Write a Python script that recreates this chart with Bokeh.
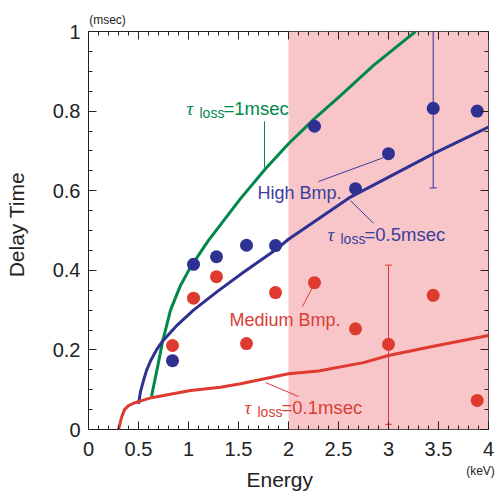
from bokeh.plotting import figure
from bokeh.models import (Range1d, FixedTicker, LinearAxis, BoxAnnotation, Label,
                          ColumnDataSource, Whisker, TeeHead)
from bokeh.embed import file_html
from bokeh.resources import INLINE

# ---------------- data ----------------
energy = [0.84, 1.05, 1.28, 1.58, 1.87, 2.26, 2.67, 3.00, 3.447, 3.887]
high_bmp = [0.173, 0.415, 0.434, 0.463, 0.462, 0.762, 0.605, 0.693, 0.807, 0.800]
medium_bmp = [0.211, 0.330, 0.384, 0.216, 0.344, 0.369, 0.253, 0.214, 0.337, 0.073]

# error bars
high_err_x = [3.447]
high_err_center = [0.807]
high_err = [0.2]
med_err_x = [3.00]
med_err_center = [0.213]
med_err = [0.2]

# model curves
tau1_x = [0.63, 0.66, 0.69, 0.74, 0.82, 0.92, 1.02, 1.20, 1.52, 1.77, 2.00, 2.26, 2.52, 2.85, 3.27]
tau1_y = [0.083, 0.120, 0.156, 0.220, 0.300, 0.362, 0.408, 0.475, 0.580, 0.655, 0.718, 0.781, 0.839, 0.915, 1.0]

tau05_x = [0.50, 0.52, 0.55, 0.58, 0.62, 0.68, 0.74, 0.89, 1.05, 1.29, 1.55, 1.89, 2.00, 2.62, 3.45, 4.0]
tau05_y = [0.065, 0.095, 0.123, 0.148, 0.172, 0.200, 0.222, 0.263, 0.300, 0.347, 0.395, 0.455, 0.478, 0.584, 0.693, 0.760]

tau01_x = [0.30, 0.33, 0.36, 0.40, 0.45, 0.50, 0.63, 1.02, 1.32, 1.52, 2.00, 2.30, 2.75, 3.00, 3.45, 4.0]
tau01_y = [0.0, 0.030, 0.050, 0.060, 0.066, 0.070, 0.080, 0.098, 0.106, 0.115, 0.140, 0.147, 0.168, 0.186, 0.209, 0.236]

shaded_energy = [2.0, 4.0]

x_ticks = [0, 0.5, 1, 1.5, 2, 2.5, 3, 3.5, 4]
x_tick_labels = ["0", "0.5", "1", "1.5", "2", "2.5", "3", "3.5", "4"]
y_ticks = [0, 0.2, 0.4, 0.6, 0.8, 1.0]
y_tick_labels = ["0", "0.2", "0.4", "0.6", "0.8", "1"]
x_unit = "(keV)"
y_unit = "(msec)"

# ---------------- style ----------------
GREEN = "#00884a"
BLUE = "#2e3192"
RED = "#df3a2f"
BLUE_T = "#3a3f9c"
RED_T = "#d93d36"
PINK = "#f8c6c9"
INK = "#222222"
FONT = "Liberation Sans"
SERIF = "Liberation Serif"
NB = "\u00a0"

p = figure(width=499, height=493, output_backend="svg", toolbar_location=None,
           x_range=Range1d(0, 4), y_range=Range1d(0, 1),
           min_border_left=88, min_border_right=11, min_border_top=31, min_border_bottom=64,
           x_axis_location=None, y_axis_location=None)
p.background_fill_color = "white"
p.border_fill_color = "white"
p.outline_line_color = INK
p.outline_line_width = 1
p.xgrid.visible = False
p.ygrid.visible = False

x_minor = [i / 10 for i in range(0, 41)]
y_minor = [i / 20 for i in range(0, 21)]

def style_axis(ax, show_labels):
    ax.axis_line_color = None
    ax.major_tick_in = 8
    ax.major_tick_out = 0
    ax.minor_tick_in = 4
    ax.minor_tick_out = 0
    ax.major_tick_line_color = INK
    ax.minor_tick_line_color = INK
    ax.major_label_text_font = FONT
    ax.major_label_text_font_size = "20px"
    ax.major_label_text_color = INK
    ax.axis_label_text_font = FONT
    ax.axis_label_text_font_size = "21px"
    ax.axis_label_text_font_style = "normal"
    ax.axis_label_text_color = INK
    if not show_labels:
        ax.major_label_overrides = {t: "" for t in ax.ticker.ticks}
        ax.major_label_text_font_size = "1px"
        ax.major_label_standoff = 0

def unit_axis(pos, text, standoff):
    # an axis without tick marks that only carries the unit text as its single label
    ax = LinearAxis(ticker=FixedTicker(ticks=[pos]))
    ax.axis_line_color = None
    ax.major_tick_line_color = None
    ax.minor_tick_line_color = None
    ax.major_tick_in = 0
    ax.major_tick_out = 0
    ax.minor_tick_in = 0
    ax.minor_tick_out = 0
    ax.major_label_overrides = {pos: text}
    ax.major_label_text_font = FONT
    ax.major_label_text_font_size = "12px"
    ax.major_label_text_color = INK
    ax.major_label_standoff = standoff
    return ax

xb = LinearAxis(ticker=FixedTicker(ticks=x_ticks, minor_ticks=x_minor), axis_label="Energy" + NB * 3)
xb.major_label_overrides = {t: s for t, s in zip(x_ticks, x_tick_labels)}
style_axis(xb, True)
xb.major_label_standoff = 12
xb.axis_label_standoff = 9
p.add_layout(xb, "below")
p.add_layout(unit_axis(3.92, x_unit, -30), "below")

yl = LinearAxis(ticker=FixedTicker(ticks=y_ticks, minor_ticks=y_minor), axis_label=NB * 2 + "Delay Time")
yl.major_label_overrides = {t: s for t, s in zip(y_ticks, y_tick_labels)}
style_axis(yl, True)
yl.major_label_standoff = 8
yl.axis_label_standoff = 22
p.add_layout(yl, "left")

xt = LinearAxis(ticker=FixedTicker(ticks=x_ticks, minor_ticks=x_minor))
style_axis(xt, False)
p.add_layout(xt, "above")
p.add_layout(unit_axis(0.19, y_unit, 5), "above")

yr = LinearAxis(ticker=FixedTicker(ticks=y_ticks, minor_ticks=y_minor))
style_axis(yr, False)
p.add_layout(yr, "right")

# shaded region
p.add_layout(BoxAnnotation(left=shaded_energy[0], right=shaded_energy[1], fill_color=PINK,
                           fill_alpha=1.0, line_color=None, level="underlay"))

# curves
p.line(tau1_x, tau1_y, line_color=GREEN, line_width=3, line_join="round")
p.line(tau05_x, tau05_y, line_color=BLUE, line_width=3, line_join="round")
p.line(tau01_x, tau01_y, line_color=RED, line_width=3, line_join="round")

# error bars
hs = ColumnDataSource(dict(x=high_err_x,
                           lo=[c - e for c, e in zip(high_err_center, high_err)],
                           hi=[min(c + e, 1.0) for c, e in zip(high_err_center, high_err)]))
p.add_layout(Whisker(source=hs, base="x", lower="lo", upper="hi", line_color=BLUE, line_width=1,
                     lower_head=TeeHead(size=7, line_color=BLUE, line_width=1), upper_head=None))
ms = ColumnDataSource(dict(x=med_err_x,
                           lo=[c - e for c, e in zip(med_err_center, med_err)],
                           hi=[c + e for c, e in zip(med_err_center, med_err)]))
p.add_layout(Whisker(source=ms, base="x", lower="lo", upper="hi", line_color=RED, line_width=1,
                     lower_head=TeeHead(size=7, line_color=RED, line_width=1),
                     upper_head=TeeHead(size=7, line_color=RED, line_width=1)))

# points
p.scatter(energy, high_bmp, size=13, fill_color=BLUE, line_color=None)
p.scatter(energy, medium_bmp, size=13, fill_color=RED, line_color=None)

# leader lines (annotation layout)
leaders = [
    ((1.76, 1.76), (0.774, 0.658), GREEN),
    ((2.30, 2.95), (0.623, 0.683), BLUE_T),
    ((2.62, 2.85), (0.575, 0.518), BLUE_T),
    ((2.14, 2.25), (0.309, 0.362), RED_T),
    ((1.77, 2.10), (0.118, 0.083), RED_T),
]
for xs, ys, c in leaders:
    p.line(list(xs), list(ys), line_color=c, line_width=1)

def label(x, y, text, color, size, font=FONT, style="normal"):
    p.add_layout(Label(x=x, y=y, text=text, text_color=color, text_font=font,
                       text_font_size=size, text_font_style=style,
                       text_align="left", text_baseline="middle"))

def tau_label(x, y, value_text, color):
    label(x, y, "\u03c4", color, "19px", SERIF, "italic")
    label(x + 0.13, y - 0.011, "loss", color, "14px")
    label(x + 0.37, y, value_text, color, "18.5px")

tau_label(0.98, 0.807, "=1msec", GREEN)
tau_label(2.39, 0.490, "=0.5msec", BLUE_T)
tau_label(1.56, 0.055, "=0.1msec", RED_T)
label(1.69, 0.595, "High Bmp.", BLUE_T, "18px")
label(1.41, 0.276, "Medium Bmp.", RED_T, "18px")

open("out.html", "w").write(file_html(p, INLINE))
